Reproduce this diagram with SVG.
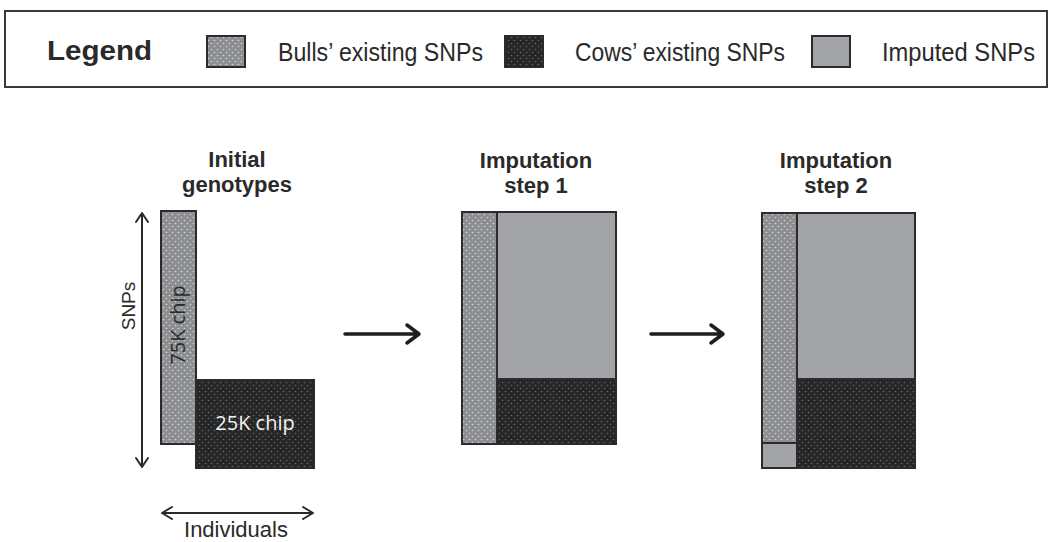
<svg xmlns="http://www.w3.org/2000/svg" width="1052" height="542" viewBox="0 0 1052 542">
<style>
.lbl{font-family:"Liberation Sans",Arial,sans-serif;font-size:25px;fill:#2a2a2a}
.ttl{font-family:"Liberation Sans",Arial,sans-serif;font-size:22px;font-weight:bold;fill:#2a2a2a;text-anchor:middle}
.chip{font-family:"Open Sans",sans-serif;font-size:20px}
.cell{stroke:#2b2b2b;stroke-width:2}
.bull{fill:url(#bullPat)}
.cow{fill:url(#cowPat)}
.imp{fill:#a2a4a7}
.big{stroke:#1e1e1e;stroke-width:3.5;fill:none;stroke-linecap:round;stroke-linejoin:round}
.thin{stroke:#2a2a2a;stroke-width:2;fill:none;stroke-linecap:round;stroke-linejoin:round}
</style>
<defs>
<pattern id="bullPat" width="6" height="6" patternUnits="userSpaceOnUse">
<rect width="6" height="6" fill="#8c8e91"/>
<circle cx="1.5" cy="1.5" r="0.8" fill="#d6d6d6"/>
<circle cx="4.5" cy="4.5" r="0.8" fill="#d6d6d6"/>
</pattern>
<pattern id="cowPat" width="6" height="6" patternUnits="userSpaceOnUse">
<rect width="6" height="6" fill="#262626"/>
<circle cx="1.5" cy="1.5" r="0.8" fill="#666"/>
<circle cx="4.5" cy="4.5" r="0.8" fill="#666"/>
</pattern>
</defs>
<rect width="1052" height="542" fill="#fff"/>

<g id="legend">
<rect x="5" y="11" width="1042" height="76" fill="#fff" stroke="#3a3a3a" stroke-width="2"/>
<text x="47" y="60" font-family="Liberation Sans,Arial,sans-serif" font-size="28" font-weight="bold" fill="#2a2a2a" textLength="105" lengthAdjust="spacingAndGlyphs">Legend</text>
<rect class="cell bull" x="207" y="36" width="38" height="31"/>
<text class="lbl" x="278" y="61" textLength="205" lengthAdjust="spacingAndGlyphs">Bulls’ existing SNPs</text>
<rect class="cell cow" x="505" y="36" width="38" height="31"/>
<text class="lbl" x="575" y="61" textLength="210" lengthAdjust="spacingAndGlyphs">Cows’ existing SNPs</text>
<rect class="cell imp" x="812" y="36" width="38" height="31"/>
<text class="lbl" x="882" y="61" textLength="153" lengthAdjust="spacingAndGlyphs">Imputed SNPs</text>
</g>

<g id="initial">
<text class="ttl" x="237" y="167">Initial</text>
<text class="ttl" x="237" y="192">genotypes</text>
<rect class="cell bull" x="161" y="211" width="35" height="233"/>
<rect class="cell cow" x="196" y="380" width="118" height="88"/>
<text class="chip" fill="#2a2a2a" text-anchor="middle" transform="translate(185,325) rotate(-90)">75K chip</text>
<text class="chip" fill="#f2f2f2" x="255" y="430" text-anchor="middle">25K chip</text>
</g>

<g id="step1">
<text class="ttl" x="536" y="168">Imputation</text>
<text class="ttl" x="536" y="193">step 1</text>
<rect class="cell imp" x="497" y="212" width="119" height="167"/>
<rect class="cell cow" x="497" y="379" width="119" height="65"/>
<rect class="cell bull" x="462" y="212" width="35" height="232"/>
</g>

<g id="step2">
<text class="ttl" x="836" y="168">Imputation</text>
<text class="ttl" x="836" y="193">step 2</text>
<rect class="cell imp" x="797" y="213" width="118" height="166"/>
<rect class="cell cow" x="797" y="379" width="118" height="89"/>
<rect class="cell bull" x="762" y="213" width="35" height="230"/>
<rect class="cell imp" x="762" y="443" width="35" height="25"/>
</g>

<g id="axes">
<path class="thin" d="M142,214 V466 M136,222 L142,213 L148,222 M136,458 L142,467 L148,458"/>
<text font-family="Liberation Sans,Arial,sans-serif" font-size="19" fill="#2a2a2a" text-anchor="middle" transform="translate(135,306) rotate(-90)">SNPs</text>
<path class="thin" d="M163,513 H312 M172,507 L162,513 L172,519 M303,507 L313,513 L303,519"/>
<text font-family="Liberation Sans,Arial,sans-serif" font-size="22" fill="#2a2a2a" x="236" y="537" text-anchor="middle">Individuals</text>
</g>

<g id="connectors">
<path class="big" d="M345,334 H418 M407,325 L419,334 L407,343"/>
<path class="big" d="M651,334 H722 M711,325 L723,334 L711,343"/>
</g>
</svg>
